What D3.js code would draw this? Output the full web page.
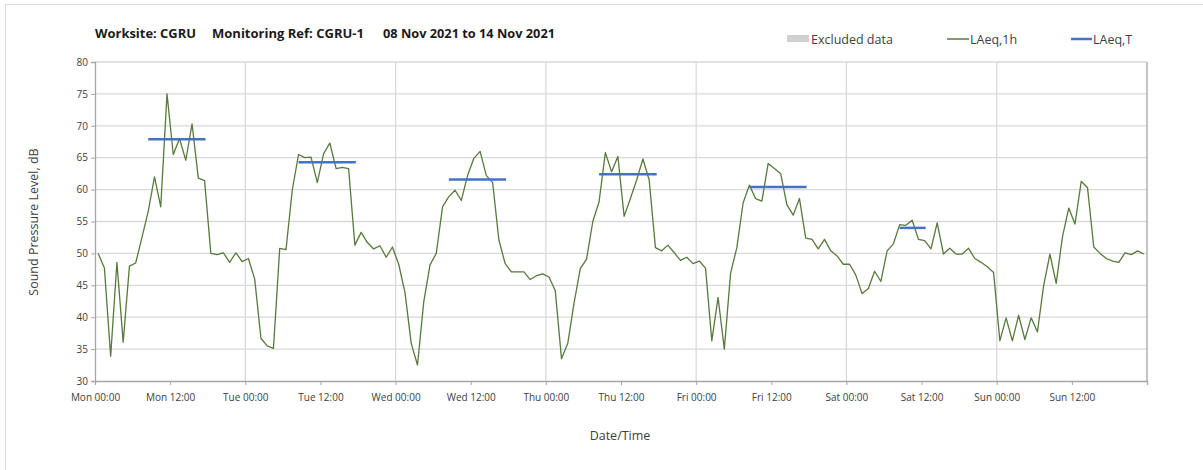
<!DOCTYPE html>
<html><head><meta charset="utf-8">
<script src="https://cdn.jsdelivr.net/npm/d3@7"></script>
<style>body{margin:0;background:#fff}svg{display:block;font-family:"Open Sans",Lato,sans-serif}</style>
</head><body><svg id="c" width="1203" height="470"></svg>
<script>
// hourly LAeq,1h values, Mon 08 Nov 2021 00:00 to Sun 14 Nov 2021 23:00
const laeq1h = [
 50.0,47.7,33.9,48.6,36.1,48.0,48.5,52.5,56.6,62.0,57.3,75.0,65.5,68.0,64.6,70.3,61.8,61.4,50.0,49.8,50.1,48.6,50.1,48.7,
 49.2,46.0,36.7,35.5,35.1,50.8,50.6,59.9,65.5,65.0,65.1,61.1,65.6,67.3,63.3,63.5,63.3,51.3,53.3,51.7,50.7,51.2,49.4,51.0,
 48.3,43.9,35.9,32.5,42.4,48.2,50.0,57.3,58.9,59.9,58.3,62.2,64.9,66.0,62.2,61.1,52.1,48.4,47.1,47.1,47.1,45.9,46.5,46.8,
 46.3,44.2,33.5,35.9,42.2,47.6,49.1,55.0,58.1,65.8,62.8,65.2,55.8,58.6,61.5,64.8,61.5,50.9,50.4,51.3,50.1,48.9,49.4,48.4,
 48.8,47.7,36.3,43.1,35.0,46.9,50.9,57.9,60.7,58.6,58.2,64.1,63.3,62.5,57.6,56.0,58.6,52.4,52.2,50.7,52.2,50.4,49.6,48.3,
 48.3,46.6,43.7,44.5,47.2,45.6,50.4,51.5,54.5,54.4,55.2,52.2,52.0,50.7,54.8,49.9,50.8,49.9,49.9,50.8,49.2,48.6,47.9,47.0,
 36.3,39.9,36.3,40.3,36.5,39.9,37.7,45.0,49.9,45.3,52.6,57.1,54.6,61.3,60.3,51.0,50.0,49.2,48.8,48.6,50.1,49.8,50.4,49.9
];
// LAeq,T periods (hours from Mon 00:00) and levels
const tStart = [8.5, 32.5, 56.5, 80.5, 104.5, 128.5];
const tEnd   = [17.65, 41.65, 65.65, 89.7, 113.65, 132.65];
const laeqT  = [67.9, 64.3, 61.6, 62.4, 60.4, 54.0];
const xTickLabels = ["Mon 00:00","Mon 12:00","Tue 00:00","Tue 12:00","Wed 00:00","Wed 12:00","Thu 00:00","Thu 12:00","Fri 00:00","Fri 12:00","Sat 00:00","Sat 12:00","Sun 00:00","Sun 12:00"];
const yTicks = [30,35,40,45,50,55,60,65,70,75,80];
const titleParts = ["Worksite: CGRU","Monitoring Ref: CGRU-1","08 Nov 2021 to 14 Nov 2021"];

const svg = d3.select("#c");
const L=95, R=1147, T=62, B=381;
const x = d3.scaleLinear().domain([0,168]).range([L,R]);
const y = d3.scaleLinear().domain([30,80]).range([B,T]);
const axisCol="#a6a6a6", gridCol="#d9d9d9";

// outer frame
svg.append("rect").attr("x",5.5).attr("y",4.5).attr("width",1300).attr("height",600)
  .attr("fill","none").attr("stroke","#d9d9d9");

// grid
svg.append("g").selectAll("line").data(yTicks.slice(1)).join("line")
  .attr("x1",L).attr("x2",R).attr("y1",d=>y(d)).attr("y2",d=>y(d))
  .attr("stroke",gridCol).attr("stroke-width",1.3);
svg.append("g").selectAll("line").data(d3.range(24,168,24)).join("line")
  .attr("x1",d=>x(d)).attr("x2",d=>x(d)).attr("y1",T).attr("y2",B)
  .attr("stroke",gridCol).attr("stroke-width",1.3);
svg.append("line").attr("x1",R).attr("x2",R).attr("y1",T).attr("y2",B).attr("stroke",axisCol).attr("stroke-width",1.3);

// axes
const xAxis = d3.axisBottom(x).tickValues(d3.range(0,169,12)).tickSize(4)
  .tickFormat((d,i)=>xTickLabels[i]||"");
const gx = svg.append("g").attr("transform",`translate(0,${B})`).call(xAxis);
gx.select(".domain").attr("stroke",axisCol).attr("stroke-width",1.3);
gx.selectAll(".tick line").attr("stroke",axisCol);
gx.selectAll("text").attr("fill","#404040").attr("font-size",10).attr("font-family","'Open Sans',sans-serif").attr("dy","1.3em");

const yAxis = d3.axisLeft(y).tickValues(yTicks).tickSize(4);
const gy = svg.append("g").attr("transform",`translate(${L},0)`).call(yAxis);
gy.select(".domain").attr("stroke",axisCol).attr("stroke-width",1.3);
gy.selectAll(".tick line").attr("stroke",axisCol);
gy.selectAll("text").attr("fill","#404040").attr("font-size",10).attr("font-family","'Open Sans',sans-serif");

// data line
const line = d3.line().x((d,i)=>x(i+0.5)).y(d=>y(d));
svg.append("path").datum(laeq1h).attr("d",line).attr("fill","none")
  .attr("stroke","#587a3c").attr("stroke-width",1.3).attr("stroke-linejoin","round");

// LAeq,T
svg.append("g").selectAll("line").data(laeqT).join("line")
  .attr("x1",(d,i)=>x(tStart[i])).attr("x2",(d,i)=>x(tEnd[i]))
  .attr("y1",d=>y(d)).attr("y2",d=>y(d))
  .attr("stroke","#4472c4").attr("stroke-width",2.5);

// title
const tx = [95, 212, 383], tw = [101, 152, 172];
svg.append("g").attr("font-weight","bold").attr("font-size",13).attr("fill","#1a1a1a")
  .selectAll("text").data(titleParts).join("text")
  .attr("x",(d,i)=>tx[i]).attr("y",38).attr("textLength",(d,i)=>tw[i]).attr("lengthAdjust","spacingAndGlyphs")
  .text(d=>d);

// legend
const lg = svg.append("g").attr("font-size",12.5).attr("fill","#404040");
lg.append("rect").attr("x",787).attr("y",35).attr("width",22).attr("height",7).attr("fill","#d0d0d0");
lg.append("text").attr("x",811).attr("y",43.5).text("Excluded data");
lg.append("line").attr("x1",947).attr("x2",969).attr("y1",39).attr("y2",39).attr("stroke","#587a3c").attr("stroke-width",1.5);
lg.append("text").attr("x",970).attr("y",43.5).text("LAeq,1h");
lg.append("line").attr("x1",1071).attr("x2",1092).attr("y1",39).attr("y2",39).attr("stroke","#4472c4").attr("stroke-width",2.5);
lg.append("text").attr("x",1093).attr("y",43.5).text("LAeq,T");

// axis titles
svg.append("text").attr("x",620).attr("y",440).attr("text-anchor","middle")
  .attr("font-size",12.5).attr("fill","#404040").text("Date/Time");
svg.append("text").attr("transform","translate(38,222) rotate(-90)").attr("text-anchor","middle")
  .attr("font-size",12.5).attr("fill","#404040").text("Sound Pressure Level, dB");
</script></body></html>
